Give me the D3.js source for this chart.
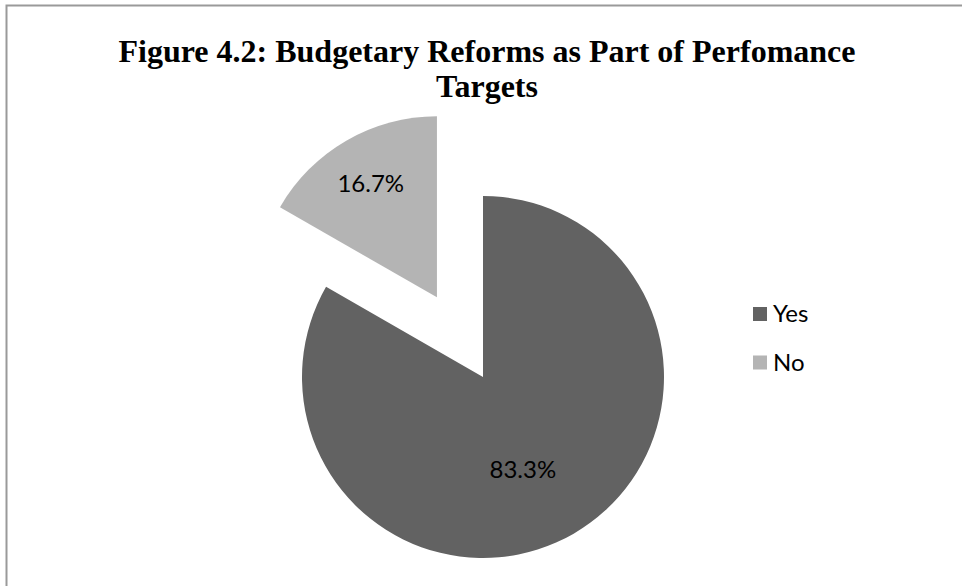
<!DOCTYPE html>
<html>
<head>
<meta charset="utf-8">
<script src="https://cdn.jsdelivr.net/npm/d3@7"></script>
<style>
  html, body { margin: 0; padding: 0; background: #fff; }
  svg { display: block; }
</style>
</head>
<body>
<svg id="chart" width="962" height="586"></svg>
<script>
const titleLines = ["Figure 4.2: Budgetary Reforms as Part of Perfomance", "Targets"];
const categories = ["Yes", "No"];
const values = [83.3, 16.7];
const labels = ["83.3%", "16.7%"];
const colors = ["#626262", "#b4b4b4"];

const W = 962, H = 586;
const svg = d3.select("#chart");

// frame
svg.append("path")
  .attr("d", `M6.5,${H} L6.5,5.5 L${W},5.5`)
  .attr("fill", "none").attr("stroke", "#9a9a9a").attr("stroke-width", 2);

// title
const title = svg.append("text")
  .attr("font-family", "'Liberation Serif', 'Times New Roman', serif")
  .attr("font-weight", "bold").attr("font-size", 32)
  .attr("text-anchor", "middle").attr("fill", "#000");
titleLines.forEach((t, i) => {
  title.append("tspan").attr("x", 487).attr("y", 62 + i * 35).text(t);
});

// pie
const cx = 483, cy = 377, r = 181;
const explode = [0, 92];
const labelFactor = [0.55, 0.73];
const labelShift = [[-10, 6], [0, 0]];

const data = categories.map((c, i) => ({ cat: c, value: values[i], label: labels[i], color: colors[i], i }));
const pie = d3.pie().sort(null).value(d => d.value);
const arcs = pie(data);
const arc = d3.arc().innerRadius(0).outerRadius(r);

const g = svg.append("g").attr("transform", `translate(${cx},${cy})`);
const slices = g.selectAll("g.slice").data(arcs).join("g")
  .attr("class", "slice")
  .attr("transform", d => {
    const a = (d.startAngle + d.endAngle) / 2;
    const e = explode[d.data.i];
    return `translate(${Math.sin(a) * e},${-Math.cos(a) * e})`;
  });
slices.append("path").attr("d", arc).attr("fill", d => d.data.color);
slices.append("text")
  .attr("font-family", "Lato, 'Open Sans', sans-serif")
  .attr("font-size", 24).attr("fill", "#000")
  .attr("text-anchor", "middle")
  .attr("x", d => {
    const a = (d.startAngle + d.endAngle) / 2;
    return Math.sin(a) * r * labelFactor[d.data.i] + labelShift[d.data.i][0];
  })
  .attr("y", d => {
    const a = (d.startAngle + d.endAngle) / 2;
    return -Math.cos(a) * r * labelFactor[d.data.i] + labelShift[d.data.i][1] + 9;
  })
  .text(d => d.data.label);

// legend
const legend = svg.append("g").attr("transform", "translate(753,307)");
const items = legend.selectAll("g").data(data).join("g")
  .attr("transform", (d, i) => `translate(0,${i * 48.5})`);
items.append("rect").attr("width", 14).attr("height", 14).attr("fill", d => d.color);
items.append("text")
  .attr("x", 20).attr("y", 15)
  .attr("font-family", "Lato, 'Open Sans', sans-serif")
  .attr("font-size", 24).attr("fill", "#000")
  .text(d => d.cat);
</script>
</body>
</html>
